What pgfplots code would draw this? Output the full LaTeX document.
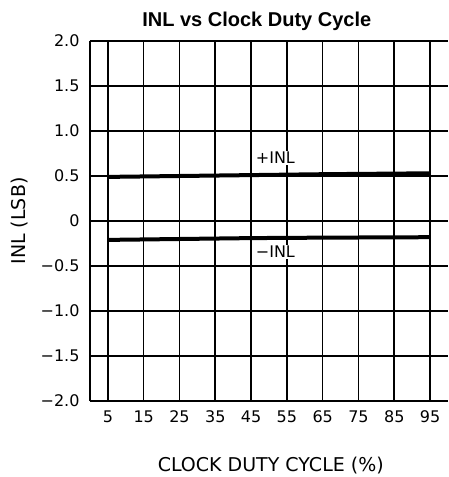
\documentclass[border=0pt]{standalone}
\usepackage{fontspec}
\setmainfont{DejaVu Sans}
\newfontfamily\titlefont{Liberation Sans}
\usepackage{pgfplots}
\pgfplotsset{compat=1.18}
\begin{document}
\begin{tikzpicture}
\begin{axis}[
  at={(0,0)}, anchor=south west,
  scale only axis, width=358pt, height=360pt,
  xmin=0, xmax=100, ymin=-2, ymax=2,
  axis x line=box, axis y line=left,
  axis line style={-, line width=1.6pt},
  xtick={5,15,25,35,45,55,65,75,85,95},
  ytick={-2,-1.5,-1,-0.5,0,0.5,1,1.5,2},
  yticklabels={−2.0,−1.5,−1.0,−0.5,0,0.5,1.0,1.5,2.0},
  xticklabels={5,15,25,35,45,55,65,75,85,95},
  major tick length=0pt,
  grid=major,
  major grid style={black, line width=1.6pt},
  tick label style={font=\fontsize{16}{18}\selectfont},
  xticklabel style={yshift=-6pt},
  yticklabel style={xshift=-7pt},
  every axis x label/.style={at={(axis description cs:0.505,-0.178)}, anchor=center, font=\fontsize{19}{21}\selectfont},
  every axis y label/.style={at={(axis description cs:-0.1955,0.5)}, rotate=90, anchor=center, font=\fontsize{19}{21}\selectfont},
  xlabel={CLOCK DUTY CYCLE (\%)},
  ylabel={INL (LSB)},
  title={INL vs Clock Duty Cycle},
  every axis title/.style={at={(axis description cs:0.466,1.039)}, anchor=base, font=\titlefont\bfseries\fontsize{20}{22}\selectfont},
  clip=false,
]
\addplot[black, line width=4pt] coordinates {(5,0.49) (25,0.50) (45,0.51) (65,0.52) (95,0.53)};
\addplot[black, line width=4pt] coordinates {(5,-0.21) (25,-0.20) (45,-0.19) (65,-0.185) (95,-0.18)};
\node[anchor=west, fill=white, font=\fontsize{16}{18}\selectfont, inner sep=1pt] at (axis cs:46,0.70) {+INL};
\node[anchor=west, fill=white, font=\fontsize{16}{18}\selectfont, inner sep=1pt] at (axis cs:46,-0.345) {−INL};
\end{axis}
\pgfresetboundingbox
\path (-90pt,-76pt) rectangle (358pt,401pt);
\end{tikzpicture}
\end{document}
